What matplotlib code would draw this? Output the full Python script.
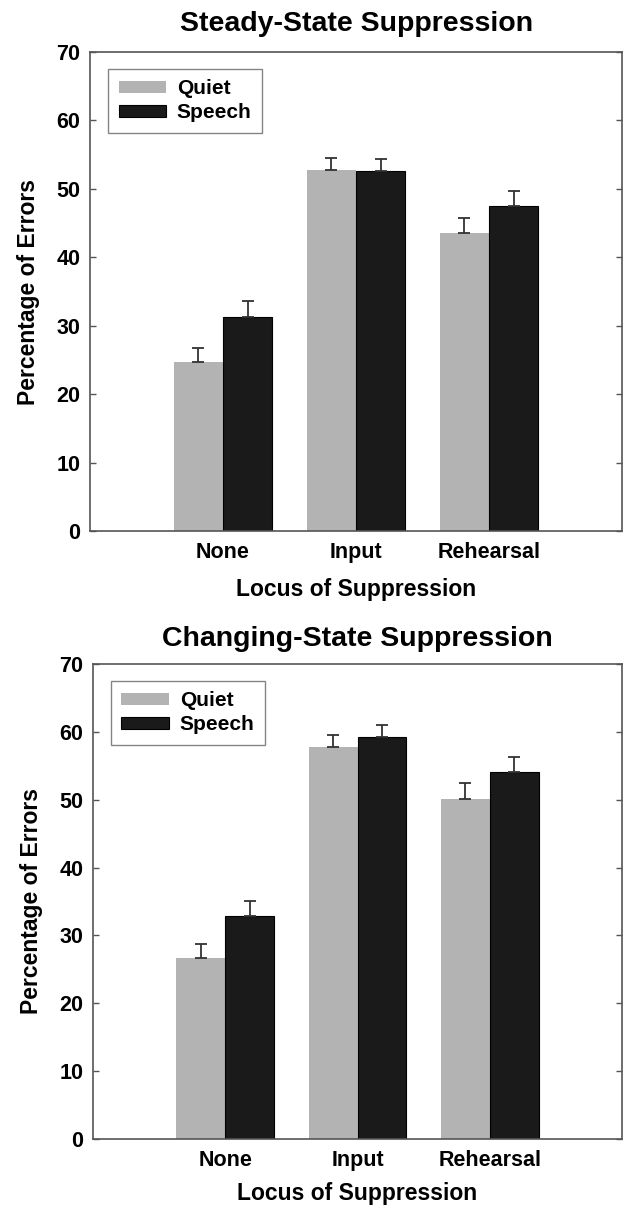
import numpy as np
import matplotlib.pyplot as plt

plt.rcParams['font.family'] = ['Liberation Sans', 'DejaVu Sans']
plt.rcParams['font.weight'] = 'bold'

categories = ['None', 'Input', 'Rehearsal']
conditions = ['Quiet', 'Speech']

# Steady-state suppression (percentage of errors)
steady_quiet = [24.7, 52.7, 43.5]
steady_speech = [31.3, 52.6, 47.5]
steady_quiet_err = [2.1, 1.8, 2.2]
steady_speech_err = [2.3, 1.8, 2.2]

# Changing-state suppression
changing_quiet = [26.7, 57.7, 50.1]
changing_speech = [32.9, 59.2, 54.1]
changing_quiet_err = [2.1, 1.8, 2.3]
changing_speech_err = [2.2, 1.8, 2.2]

quiet_color = '#b3b3b3'
speech_color = '#1a1a1a'
frame_color = '#555555'


def draw_panel(ax, title, quiet, speech, quiet_err, speech_err, title_pad, xlabel_pad):
    x = np.arange(1, len(categories) + 1)
    w = 0.37
    ax.bar(x - w / 2, quiet, width=w, color=quiet_color, label=conditions[0])
    ax.bar(x + w / 2, speech, width=w, color=speech_color,
           edgecolor='#000000', linewidth=0.8, label=conditions[1])
    ax.errorbar(x - w / 2, quiet, yerr=[np.zeros(len(quiet)), quiet_err],
                fmt='none', ecolor='#333333', elinewidth=1.3, capsize=4, capthick=1.3)
    ax.errorbar(x + w / 2, speech, yerr=[np.zeros(len(speech)), speech_err],
                fmt='none', ecolor='#333333', elinewidth=1.3, capsize=4, capthick=1.3)

    ax.set_xlim(0, 4)
    ax.set_ylim(0, 70)
    ax.set_yticks(np.arange(0, 71, 10))
    ax.set_xticks(x)
    ax.set_xticklabels(categories)
    ax.tick_params(axis='x', length=0, pad=8, labelsize=15.5)
    ax.tick_params(axis='y', direction='in', left=True, right=True,
                   length=4, width=1, color=frame_color, labelsize=15.5, pad=7)
    for s in ax.spines.values():
        s.set_color(frame_color)
        s.set_linewidth(1.2)

    ax.set_title(title, fontsize=20.5, fontweight='bold', pad=title_pad)
    ax.set_xlabel('Locus of Suppression', fontsize=16.5, fontweight='bold', labelpad=xlabel_pad)
    ax.set_ylabel('Percentage of Errors', fontsize=16.5, fontweight='bold', labelpad=12)

    leg = ax.legend(loc='upper left', bbox_to_anchor=(0.034, 0.965), borderaxespad=0,
                    fontsize=15, frameon=True, fancybox=False, edgecolor='#666666',
                    handlelength=2.3, handleheight=0.5, handletextpad=0.5,
                    labelspacing=0.25, borderpad=0.5)
    leg.get_frame().set_linewidth(1.0)


fig = plt.figure(figsize=(6.26, 12.05), dpi=100)
ax1 = fig.add_axes([0.1438, 0.5593, 0.85, 0.3975])
ax2 = fig.add_axes([0.1486, 0.0548, 0.845, 0.3942])

draw_panel(ax1, 'Steady-State Suppression', steady_quiet, steady_speech,
           steady_quiet_err, steady_speech_err, title_pad=15, xlabel_pad=11)
draw_panel(ax2, 'Changing-State Suppression', changing_quiet, changing_speech,
           changing_quiet_err, changing_speech_err, title_pad=13, xlabel_pad=8)

fig.savefig('out.png', dpi=100)
